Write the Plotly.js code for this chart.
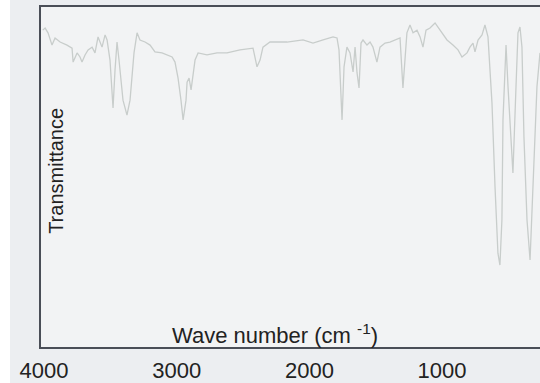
<!DOCTYPE html>
<html>
<head>
<meta charset="utf-8">
<script src="https://cdn.plot.ly/plotly-3.0.1.min.js"></script>
<style>html,body{margin:0;padding:0;background:#fff;}#chart{width:540px;height:383px;}</style>
</head>
<body>
<div id="chart"></div>
<script>
// IR spectrum: wave number (cm-1) and transmittance (%)
const waveNumber = [4010,3992,3970,3940,3917,3879,3827,3789,3781,3751,3729,3714,3691,3668,3638,3616,3593,3563,3540,3525,3503,3480,3465,3450,3435,3405,3375,3352,3322,3299,3277,3239,3201,3164,3111,3073,3035,3013,2990,2968,2952,2930,2922,2907,2892,2862,2839,2772,2696,2621,2523,2425,2395,2372,2350,2297,2169,2048,1973,1897,1822,1792,1777,1754,1739,1717,1694,1671,1656,1641,1626,1611,1596,1566,1543,1521,1491,1468,1430,1393,1355,1317,1295,1265,1242,1219,1189,1166,1144,1121,1091,1053,1031,1001,963,918,880,850,812,790,767,752,729,699,677,654,624,601,579,564,549,541,518,503,481,466,443,428,413,398,383,360,337,315,285,262];
const transmittance = [93.2,93.8,92.4,88.8,90.9,89.7,88.8,87.9,83.8,86.5,85.3,83.8,85.9,87.4,88.2,86.5,91.2,88.2,91.8,90.3,84.4,70.3,81.5,89.7,84.4,72.6,68.2,72.6,86.5,92.4,90.3,89.7,88.8,86.8,86.5,85.9,85.3,83.8,79.1,72.6,66.8,72.6,77.9,79.1,75.6,84.4,86.5,85.9,86.5,86.5,87.4,87.9,82.4,84.4,88.2,89.7,89.7,90.3,89.4,90.3,91.2,90.9,87.4,66.8,82.4,88.2,86.5,80.9,88.2,80.6,76.2,89.4,90.3,88.8,89.7,88.2,83.8,88.2,89.4,89.7,90.3,90.9,76.2,92.4,94.7,92.4,93.2,91.2,88.2,93.2,93.8,95.3,94.1,92.4,90.3,88.8,87.4,85.3,86.5,88.2,89.4,86.8,90.3,91.8,94.7,91.2,71.8,47.1,27.6,24.1,37.4,66.8,88.8,76.5,61.8,51.2,76.5,92.4,94.1,88.2,61.8,37.4,25.6,47.1,76.5,86.5];
const xTicks = [4000, 3000, 2000, 1000];
const xTickText = ['4000', '3000', '2000', '1000'];
const xTitle = 'Wave number (cm <sup>-1</sup>)';
const yTitle = 'Transmittance';

const FONT = 'Liberation Sans, Arial, Helvetica, sans-serif';
const axisColor = '#4a4e57';

const trace = {
  x: waveNumber, y: transmittance, type: 'scatter', mode: 'lines',
  line: {color: '#c8cdcb', width: 1.3}, hoverinfo: 'skip'
};

const layout = {
  width: 540, height: 383,
  margin: {l: 41, r: 0, t: 7, b: 36},
  paper_bgcolor: '#eceef1',
  plot_bgcolor: '#f2f3f4',
  showlegend: false,
  font: {family: FONT, color: '#222'},
  xaxis: {
    range: [4023, 262], tickvals: xTicks, ticktext: xTickText,
    ticks: '', tickfont: {size: 22, color: '#222', family: FONT},
    ticklabelstandoff: 3,
    showline: true, mirror: true, linecolor: axisColor, linewidth: 2,
    showgrid: false, zeroline: false, fixedrange: true
  },
  yaxis: {
    range: [0, 100], showticklabels: false, ticks: '',
    showline: true, mirror: false, linecolor: axisColor, linewidth: 2,
    showgrid: false, zeroline: false, fixedrange: true
  },
  shapes: [{
    type: 'rect', xref: 'paper', yref: 'paper', layer: 'below',
    x0: -41/499, x1: -31/499, y0: -0.2, y1: 1.1,
    fillcolor: '#ffffff', line: {width: 0}
  }],
  annotations: [
    {text: xTitle, xref: 'paper', yref: 'paper', x: 0.469, y: 0.038,
     xanchor: 'center', yanchor: 'middle', showarrow: false,
     font: {size: 22, color: '#222', family: FONT}},
    {text: yTitle, xref: 'paper', yref: 'paper', x: 0.030, y: 0.518,
     xanchor: 'center', yanchor: 'middle', showarrow: false, textangle: -90,
     font: {size: 20, color: '#222', family: FONT}}
  ]
};

Plotly.newPlot('chart', [trace], layout, {displayModeBar: false, staticPlot: true});
</script>
</body>
</html>
